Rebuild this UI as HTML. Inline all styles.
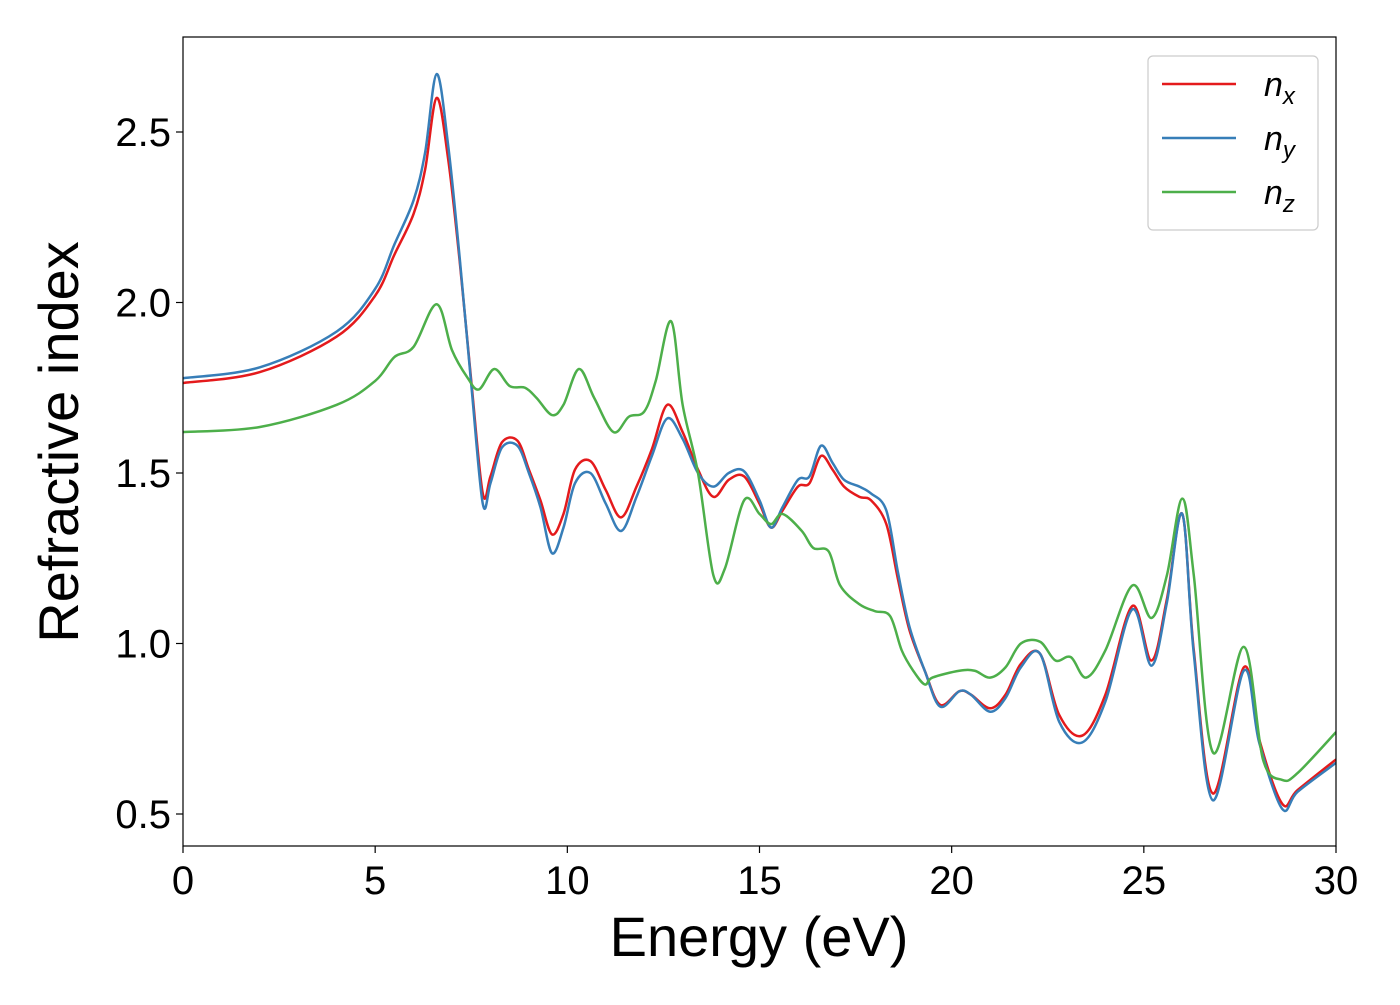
<!DOCTYPE html>
<html><head><meta charset="utf-8"><style>
body{margin:0;background:#fff;}
svg{font-family:"Liberation Sans","DejaVu Sans",sans-serif;}
</style></head><body>
<svg id="chart" width="1400" height="1000">
<g id="plot"></g>
</svg>
<script>
const energyRed=[0,2,4,5,5.5,6,6.3,6.6,6.9,7.2,7.5,7.8,8.0,8.3,8.7,9.0,9.3,9.6,9.9,10.2,10.6,11.0,11.4,11.8,12.2,12.6,13.0,13.4,13.8,14.2,14.6,15.0,15.3,15.6,16.0,16.3,16.6,16.9,17.2,17.6,17.9,18.3,18.6,18.9,19.3,19.7,20.2,20.5,21.0,21.4,21.8,22.3,22.8,23.4,24.0,24.7,25.2,25.6,26.0,26.3,26.8,27.6,28.0,28.6,29.0,30];
const nx=[1.764,1.796,1.90,2.02,2.14,2.26,2.39,2.60,2.42,2.12,1.77,1.44,1.49,1.59,1.595,1.51,1.42,1.32,1.38,1.51,1.535,1.45,1.37,1.46,1.57,1.70,1.62,1.51,1.43,1.48,1.49,1.41,1.34,1.39,1.46,1.47,1.55,1.51,1.46,1.43,1.42,1.35,1.19,1.04,0.92,0.82,0.86,0.85,0.81,0.85,0.94,0.97,0.79,0.73,0.85,1.11,0.95,1.13,1.38,0.98,0.56,0.93,0.72,0.53,0.57,0.66];
const ny=[1.778,1.81,1.915,2.04,2.17,2.30,2.44,2.67,2.46,2.13,1.76,1.41,1.47,1.575,1.58,1.50,1.40,1.265,1.34,1.47,1.50,1.41,1.33,1.43,1.55,1.66,1.60,1.50,1.46,1.50,1.505,1.42,1.34,1.40,1.48,1.49,1.58,1.53,1.48,1.46,1.44,1.39,1.21,1.05,0.92,0.815,0.86,0.85,0.80,0.84,0.93,0.97,0.77,0.71,0.83,1.10,0.935,1.12,1.38,0.97,0.54,0.92,0.71,0.515,0.565,0.65];
const energyGreen=[0,2,4,5,5.5,6,6.6,7.0,7.4,7.7,8.1,8.5,8.9,9.2,9.6,9.9,10.3,10.7,11.2,11.6,12.0,12.3,12.7,13.0,13.4,13.8,14.1,14.6,15.0,15.3,15.6,16.1,16.4,16.8,17.1,17.6,18.0,18.4,18.7,19.0,19.3,19.5,20.2,20.6,21,21.4,21.8,22.3,22.7,23.1,23.5,24.0,24.7,25.2,25.6,26.0,26.3,26.8,27.6,28.1,28.6,29,30];
const nz=[1.62,1.635,1.70,1.77,1.84,1.87,1.995,1.86,1.78,1.745,1.805,1.755,1.75,1.72,1.67,1.70,1.805,1.72,1.62,1.665,1.68,1.77,1.945,1.70,1.50,1.20,1.22,1.42,1.38,1.35,1.38,1.33,1.28,1.27,1.17,1.115,1.095,1.08,0.98,0.92,0.88,0.90,0.92,0.92,0.90,0.93,1.00,1.005,0.95,0.96,0.90,0.98,1.17,1.075,1.20,1.425,1.20,0.68,0.99,0.66,0.60,0.62,0.74];
const xTicks=[0,5,10,15,20,25,30];
const yTicks=[0.5,1.0,1.5,2.0,2.5];
const yTickLabels=["0.5","1.0","1.5","2.0","2.5"];

const L=183,R=1336,T=37,B=846;
const X=v=>L+(v-0)*(R-L)/30;
const Y=v=>814-(v-0.5)*341;
const NS="http://www.w3.org/2000/svg";
const g=document.getElementById('plot');
function mk(t,a,p){const e=document.createElementNS(NS,t);for(const k in a)e.setAttribute(k,a[k]);(p||g).appendChild(e);return e;}

const clip=mk('clipPath',{id:'cp'});mk('rect',{x:L,y:T,width:R-L,height:B-T},clip);

function pathFor(xs,ys){
  const p=xs.map((x,i)=>[X(x),Y(ys[i])]);
  let d='M'+p[0][0]+','+p[0][1];
  for(let i=0;i<p.length-1;i++){
    const p0=p[Math.max(i-1,0)],p1=p[i],p2=p[i+1],p3=p[Math.min(i+2,p.length-1)];
    const c1=[p1[0]+(p2[0]-p0[0])/6,p1[1]+(p2[1]-p0[1])/6];
    const c2=[p2[0]-(p3[0]-p1[0])/6,p2[1]-(p3[1]-p1[1])/6];
    d+=`C${c1[0]},${c1[1]} ${c2[0]},${c2[1]} ${p2[0]},${p2[1]}`;
  }
  return d;
}
const series=[[energyRed,nx,'#e41a1c','series-nx'],[energyRed,ny,'#377eb8','series-ny'],[energyGreen,nz,'#4daf4a','series-nz']];
series.forEach(s=>{
  const e=mk('path',{d:pathFor(s[0],s[1]),fill:'none',stroke:s[2],'stroke-width':2.5,'clip-path':'url(#cp)'});
  
  
});

const frame=mk('rect',{x:L,y:T,width:R-L,height:B-T,fill:'none',stroke:'#000','stroke-width':1.2});



xTicks.forEach(v=>{
  mk('line',{x1:X(v),x2:X(v),y1:B,y2:B+7,stroke:'#000','stroke-width':1.2});
  const t=mk('text',{x:X(v),y:B+48,'text-anchor':'middle','font-size':40});
  t.textContent=v;
  
  
});
yTicks.forEach((v,i)=>{
  mk('line',{x1:L-7,x2:L,y1:Y(v),y2:Y(v),stroke:'#000','stroke-width':1.2});
  const t=mk('text',{x:L-12,y:Y(v)+14,'text-anchor':'end','font-size':40});
  t.textContent=yTickLabels[i];
  
  
});
const xt=mk('text',{x:759,y:956,'text-anchor':'middle','font-size':56});
xt.textContent='Energy (eV)';


const yt=mk('text',{x:0,y:0,'text-anchor':'middle','font-size':56,transform:'translate(78,442) rotate(-90)'});
yt.textContent='Refractive index';



const lg=mk('g',{});


mk('rect',{x:1148,y:56,width:170,height:174,rx:5,fill:'#fff',stroke:'#ccc','stroke-width':1.2},lg);
const labs=[['n','x','#e41a1c'],['n','y','#377eb8'],['n','z','#4daf4a']];
labs.forEach((l,i)=>{
  const y=84+i*54;
  const ln=mk('line',{x1:1162,x2:1236,y1:y,y2:y,stroke:l[2],'stroke-width':2.5},lg);
  
  
  const t=mk('text',{x:1264,y:y+12,'font-size':34,'font-style':'italic'},lg);
  
  
  t.textContent=l[0];
  const s=mk('tspan',{'font-size':24,dy:8},t);
  s.textContent=l[1];
});
</script>
</body></html>
